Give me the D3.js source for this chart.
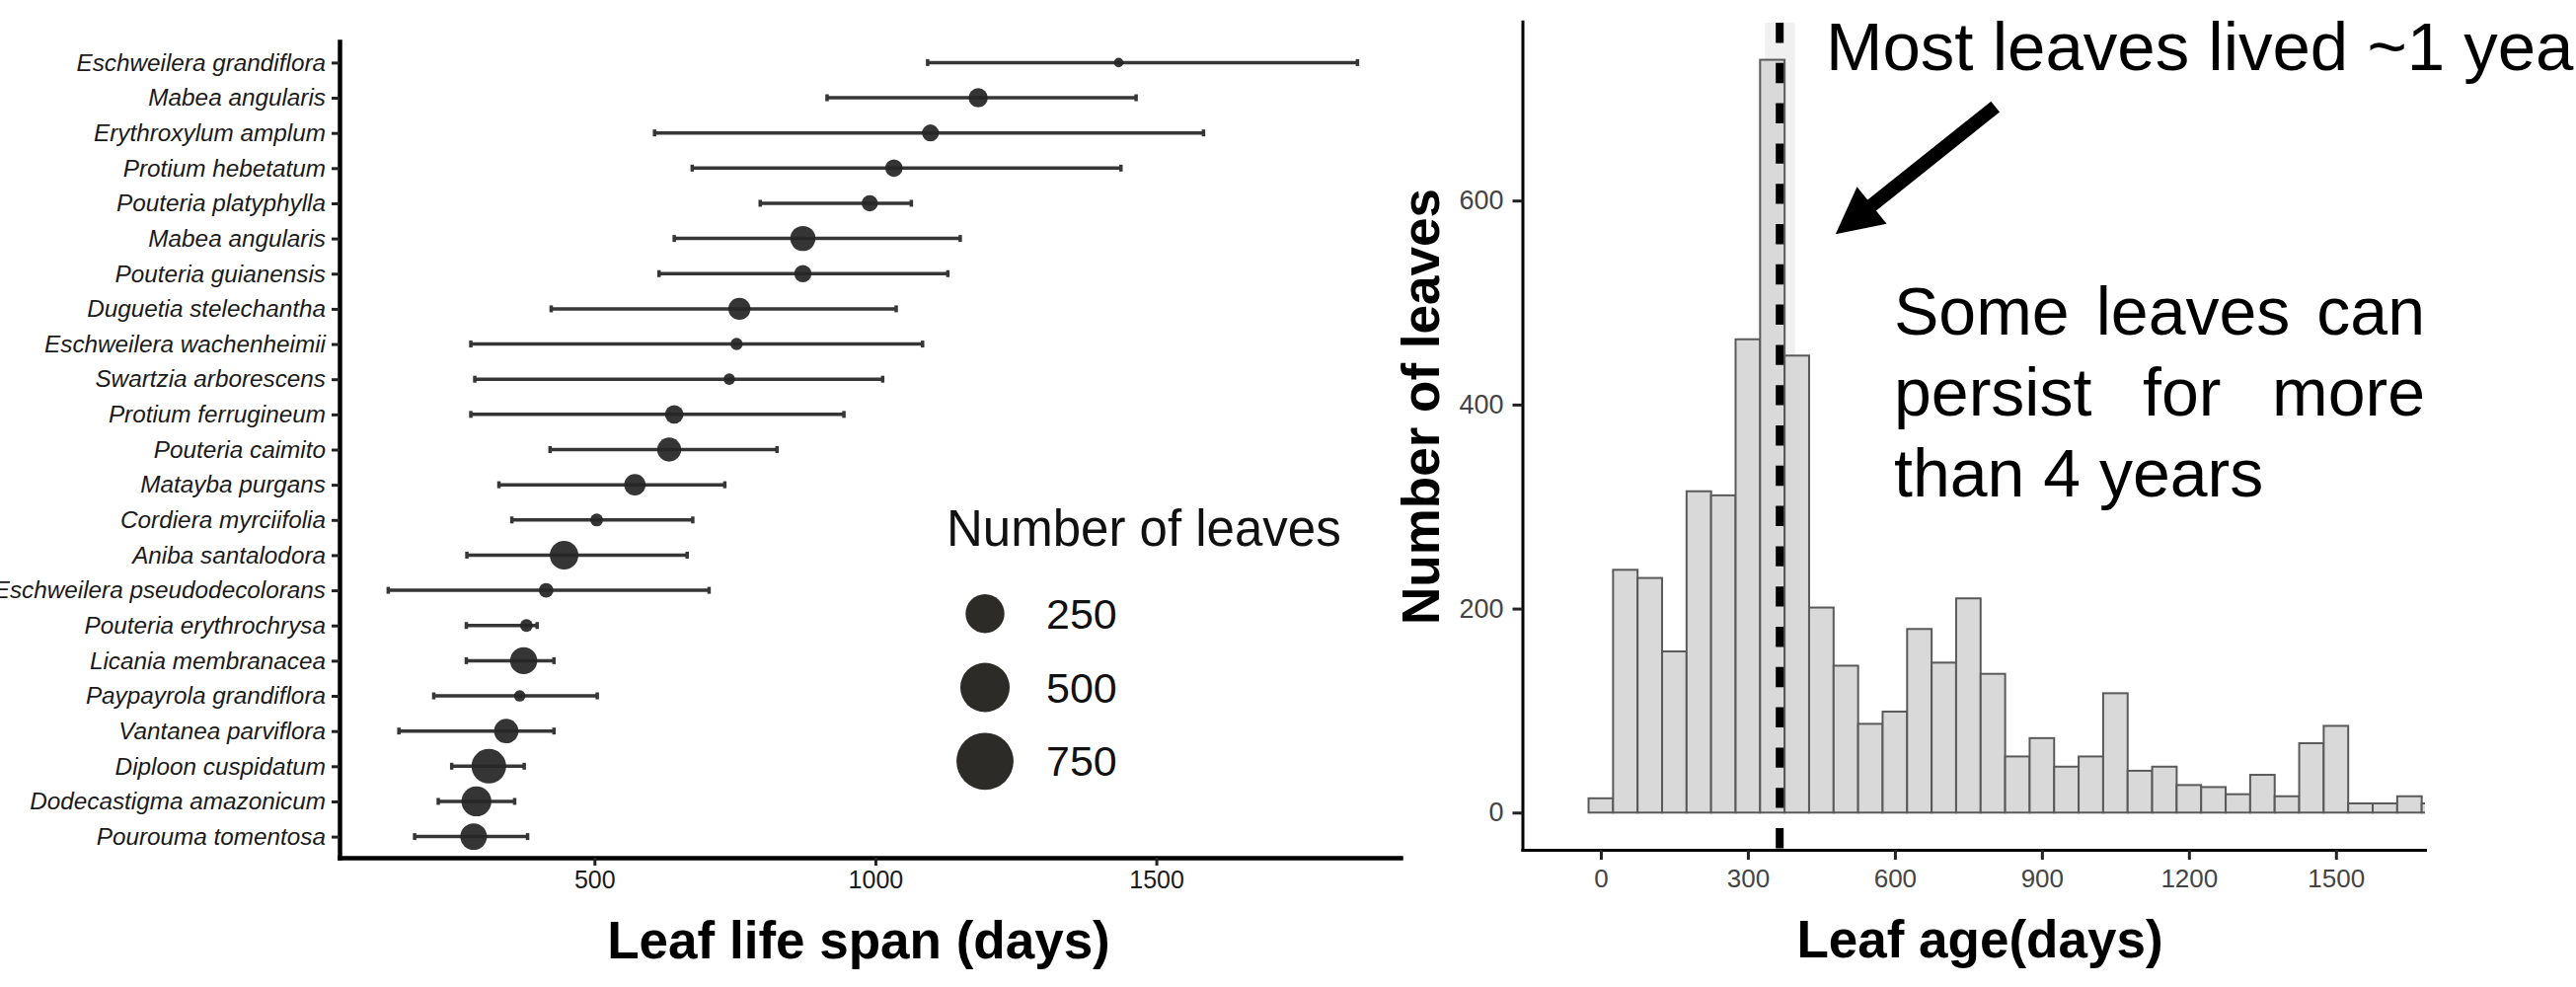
<!DOCTYPE html>
<html>
<head>
<meta charset="utf-8">
<script src="https://cdn.jsdelivr.net/npm/d3@7"></script>
<style>
    body { margin: 0; background: #fff; }
    svg { display: block; font-family: "Liberation Sans", Arial, sans-serif; }
</style>
</head>
<body>
<div id="chart"></div>
<script>
    // ---- left panel: leaf life span per species (top to bottom)
    var species = ["Eschweilera grandiflora", "Mabea angularis", "Erythroxylum amplum", "Protium hebetatum",
        "Pouteria platyphylla", "Mabea angularis", "Pouteria guianensis", "Duguetia stelechantha",
        "Eschweilera wachenheimii", "Swartzia arborescens", "Protium ferrugineum", "Pouteria caimito",
        "Matayba purgans", "Cordiera myrciifolia", "Aniba santalodora", "Eschweilera pseudodecolorans",
        "Pouteria erythrochrysa", "Licania membranacea", "Paypayrola grandiflora", "Vantanea parviflora",
        "Diploon cuspidatum", "Dodecastigma amazonicum", "Pourouma tomentosa"];
    var meanSpan = [1433, 1183, 1098, 1033, 990, 871, 871, 758, 753, 740, 642, 633, 572, 504, 446, 414, 379, 374, 367, 343, 312, 290, 285];
    var lowerSpan = [1093, 914, 607, 674, 795, 642, 615, 423, 280, 287, 280, 421, 330, 353, 273, 133, 272, 272, 214, 152, 246, 222, 180];
    var upperSpan = [1858, 1464, 1584, 1437, 1064, 1151, 1129, 1037, 1084, 1013, 944, 825, 732, 675, 665, 704, 398, 428, 505, 428, 375, 358, 381];
    var nLeaves = [1, 26, 16, 18, 14, 65, 17, 42, 4, 3, 23, 56, 38, 5, 98, 9, 5, 83, 3, 59, 177, 113, 78];
    var spanTicks = [500, 1000, 1500];
    var legendSizes = [250, 500, 750];

    // ---- right panel: histogram of leaf age, 50 day bins (bin centres)
    var ageBins = [0, 50, 100, 150, 200, 250, 300, 350, 400, 450, 500, 550, 600, 650, 700, 750, 800, 850,
        900, 950, 1000, 1050, 1100, 1150, 1200, 1250, 1300, 1350, 1400, 1450, 1500, 1550, 1600, 1650, 1700];
    var ageCounts = [14, 238, 230, 158, 315, 311, 464, 738, 448, 201, 144, 87, 99, 180, 147, 210, 136, 55,
        73, 45, 55, 117, 41, 45, 27, 25, 18, 37, 16, 68, 85, 9, 9, 16, 9];
    var binWidth = 50;
    var ageTicks = [0, 300, 600, 900, 1200, 1500];
    var countTicks = [0, 200, 400, 600];
    var oneYear = 365;
    var yearBand = [335, 396];
    var arrowTail = [805, 692];   // days, count
    var arrowTip = [479, 567];

    var W = 2610, H = 1000;

    var svg = d3.select("#chart")
                .append("svg")
                .attr("width", W)
                .attr("height", H);

    svg.append("rect").attr("width", W).attr("height", H).attr("fill", "#fff");

    function styleAxis(g, fontSize, lineWidth, textColor) {
        g.attr("font-family", null).attr("font-size", fontSize);
        g.select(".domain").attr("stroke", "#000").attr("stroke-width", lineWidth).attr("stroke-linecap", "square");
        g.selectAll(".tick line").attr("stroke", "#222").attr("stroke-width", 3);
        g.selectAll(".tick text").attr("fill", textColor);
    }

    var plain = function (d) { return String(d); };

    //chart1
    var x1 = d3.scaleLinear().domain([46.3, 1934.6]).range([344, 1419]);
    var y1 = d3.scalePoint().domain(d3.range(species.length)).range([42, 869]).padding(0.6);
    var size = d3.scalePow().exponent(0.4).domain([0, 750]).range([3, 28.9]);

    var left = svg.append("g");

    // error bars
    var bars = left.selectAll("g.eb")
                .data(species)
                .enter()
                .append("g")
                .attr("class", "eb")
                .attr("stroke", "#363636")
                .attr("stroke-width", 3.5);

    bars.append("line")
        .attr("x1", function (d, i) { return x1(lowerSpan[i]); })
        .attr("x2", function (d, i) { return x1(upperSpan[i]); })
        .attr("y1", function (d, i) { return y1(i); })
        .attr("y2", function (d, i) { return y1(i); });

    bars.selectAll("line.cap")
        .data(function (d, i) { return [{ v: lowerSpan[i], i: i }, { v: upperSpan[i], i: i }]; })
        .enter()
        .append("line")
        .attr("class", "cap")
        .attr("x1", function (d) { return x1(d.v); })
        .attr("x2", function (d) { return x1(d.v); })
        .attr("y1", function (d) { return y1(d.i) - 3.5; })
        .attr("y2", function (d) { return y1(d.i) + 3.5; });

    // points sized by number of leaves
    left.selectAll("circle.pt")
        .data(species)
        .enter()
        .append("circle")
        .attr("class", "pt")
        .attr("cx", function (d, i) { return x1(meanSpan[i]); })
        .attr("cy", function (d, i) { return y1(i); })
        .attr("r", function (d, i) { return size(nLeaves[i]); })
        .attr("fill", "#262626")
        .attr("fill-opacity", 0.93);

    var gy1 = left.append("g")
                .attr("transform", "translate(344,0)")
                .call(d3.axisLeft(y1).tickFormat(function (i) { return species[i]; }).tickSize(8).tickSizeOuter(0).tickPadding(6));
    styleAxis(gy1, 24.3, 4.5, "#1a1a1a");
    gy1.selectAll(".tick text").attr("font-style", "italic");

    var gx1 = left.append("g")
                .attr("transform", "translate(0,869)")
                .call(d3.axisBottom(x1).tickValues(spanTicks).tickFormat(plain).tickSize(8).tickSizeOuter(0).tickPadding(5));
    styleAxis(gx1, 25, 4.5, "#1a1a1a");

    left.append("text")
        .attr("x", 870).attr("y", 971)
        .attr("text-anchor", "middle")
        .attr("font-size", 53).attr("font-weight", "bold")
        .text("Leaf life span (days)");

    // legend
    var legend = left.append("g");
    legend.append("text")
        .attr("x", 959).attr("y", 553)
        .attr("font-size", 51).attr("fill", "#111")
        .text("Number of leaves");

    legend.selectAll("circle")
        .data(legendSizes)
        .enter()
        .append("circle")
        .attr("cx", 998)
        .attr("cy", function (d, i) { return 621.7 + i * 74.8; })
        .attr("r", function (d) { return size(d); })
        .attr("fill", "#2d2b28");

    legend.selectAll("text.lab")
        .data(legendSizes)
        .enter()
        .append("text")
        .attr("class", "lab")
        .attr("x", 1060)
        .attr("y", function (d, i) { return 636.7 + i * 74.8; })
        .attr("font-size", 43).attr("fill", "#111")
        .text(function (d) { return d; });

    //chart2
    var x2 = d3.scaleLinear().domain([-160, 1681.7]).range([1542.5, 2457]);
    var y2 = d3.scaleLinear().domain([-36.5, 775.6]).range([861, 21.7]);

    var right = svg.append("g");

    svg.append("clipPath").attr("id", "clipR")
        .append("rect")
        .attr("x", 1542.5).attr("y", 0)
        .attr("width", 2457 - 1542.5).attr("height", 861);

    var plot = right.append("g").attr("clip-path", "url(#clipR)");

    // shaded band around one year
    plot.append("rect")
        .attr("x", x2(yearBand[0]))
        .attr("width", x2(yearBand[1]) - x2(yearBand[0]))
        .attr("y", 23)
        .attr("height", y2(0) - 23)
        .attr("fill", "#f0f0f0");

    plot.selectAll("rect.bar")
        .data(ageBins)
        .enter()
        .append("rect")
        .attr("class", "bar")
        .attr("x", function (d) { return x2(d - binWidth / 2); })
        .attr("width", function (d) { return x2(d + binWidth / 2) - x2(d - binWidth / 2); })
        .attr("y", function (d, i) { return y2(ageCounts[i]); })
        .attr("height", function (d, i) { return y2(0) - y2(ageCounts[i]); })
        .attr("fill", "#d9d9d9")
        .attr("stroke", "#5a5a5a")
        .attr("stroke-width", 2);

    plot.append("line")
        .attr("x1", x2(oneYear)).attr("x2", x2(oneYear))
        .attr("y1", 23).attr("y2", 861)
        .attr("stroke", "#000")
        .attr("stroke-width", 8)
        .attr("stroke-dasharray", "20.4,20.4");

    var gy2 = right.append("g")
                .attr("transform", "translate(1542.5,0)")
                .call(d3.axisLeft(y2).tickValues(countTicks).tickFormat(plain).tickSize(10).tickSizeOuter(0).tickPadding(9));
    styleAxis(gy2, 27, 3, "#444");

    var gx2 = right.append("g")
                .attr("transform", "translate(0,861)")
                .call(d3.axisBottom(x2).tickValues(ageTicks).tickFormat(plain).tickSize(10).tickSizeOuter(0).tickPadding(9.5));
    styleAxis(gx2, 26, 3, "#444");

    right.append("text")
        .attr("x", 2006).attr("y", 970)
        .attr("text-anchor", "middle")
        .attr("font-size", 53).attr("font-weight", "bold")
        .text("Leaf age(days)");

    right.append("text")
        .attr("transform", "translate(1458,412) rotate(-90)")
        .attr("text-anchor", "middle")
        .attr("font-size", 53).attr("font-weight", "bold")
        .text("Number of leaves");

    // arrow annotation
    var ax0 = x2(arrowTail[0]), ay0 = y2(arrowTail[1]);
    var ax1 = x2(arrowTip[0]), ay1 = y2(arrowTip[1]);
    var len = Math.sqrt((ax1 - ax0) * (ax1 - ax0) + (ay1 - ay0) * (ay1 - ay0));
    var ux = (ax1 - ax0) / len, uy = (ay1 - ay0) / len;
    var headL = 47, headW = 24;
    var bx = ax1 - ux * headL, by = ay1 - uy * headL;

    right.append("line")
        .attr("x1", ax0).attr("y1", ay0)
        .attr("x2", bx + ux * 4).attr("y2", by + uy * 4)
        .attr("stroke", "#000")
        .attr("stroke-width", 14);

    right.append("path")
        .attr("d", "M" + ax1 + "," + ay1 +
                   "L" + (bx - uy * headW) + "," + (by + ux * headW) +
                   "L" + (bx + uy * headW) + "," + (by - ux * headW) + "Z")
        .attr("fill", "#000");

    right.append("text")
        .attr("x", 1850).attr("y", 71)
        .attr("font-size", 69)
        .text("Most leaves lived ~1 year");

    // justified note
    var note = ["Some leaves can", "persist for more", "than 4 years"];
    var noteY = [339, 421, 503];
    var noteX = 1919, noteW = 538;
    right.selectAll("text.note")
        .data(note)
        .enter()
        .append("text")
        .attr("class", "note")
        .attr("x", noteX)
        .attr("y", function (d, i) { return noteY[i]; })
        .attr("font-size", 68)
        .text(function (d) { return d; })
        .each(function (d, i) {
            if (i == note.length - 1) return;
            var w = this.getComputedTextLength();
            var gaps = d.split(" ").length - 1;
            d3.select(this).attr("word-spacing", (noteW - w) / gaps);
        });
</script>
</body>
</html>
